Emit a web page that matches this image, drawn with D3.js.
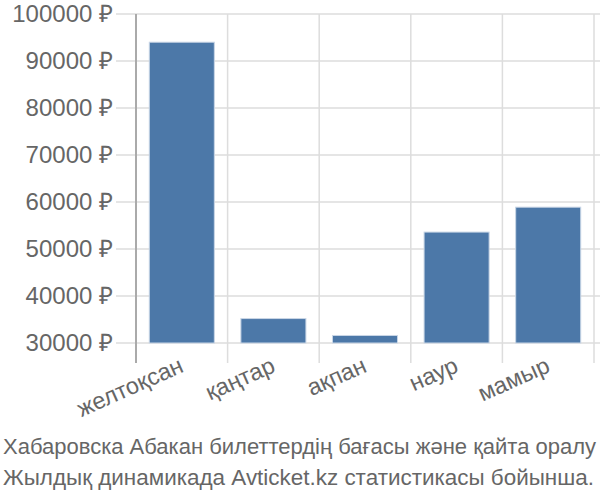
<!DOCTYPE html>
<html><head><meta charset="utf-8">
<script src="https://cdn.jsdelivr.net/npm/d3@7"></script>
<style>body{margin:0;background:#fff}svg{display:block}</style>
</head><body>
<svg id="c" width="600" height="500"></svg>
<script>
const categories = ["желтоқсан","қаңтар","ақпан","наур","мамыр"];
const values = [94000, 35200, 31600, 53600, 58900];
const yTicks = [30000,40000,50000,60000,70000,80000,90000,100000];
const titleLines = ["Хабаровска Абакан билеттердің бағасы және қайта оралу","Жылдық динамикада Avticket.kz статистикасы бойынша."];

(function(){
const svg = d3.select("#c");
const pl = 136, pr = 594, pt = 14, pb = 343;
const x = d3.scaleBand().domain(categories).range([pl, pr]).padding(0);
const y = d3.scaleLinear().domain([30000, 100000]).range([pb, pt]);
const font = "'Liberation Sans', Arial, sans-serif";

svg.append("g").selectAll("line").data(yTicks).join("line")
  .attr("x1", pl - 20).attr("x2", 600).attr("y1", d => y(d)).attr("y2", d => y(d))
  .attr("stroke", "#dddddd").attr("stroke-width", 1.5);
const bounds = categories.map(c => x(c)).concat([pr]);
svg.append("g").selectAll("line").data(bounds).join("line")
  .attr("x1", d => d).attr("x2", d => d).attr("y1", pt).attr("y2", pb + 20)
  .attr("stroke", (d,i) => i === 0 ? "#aaaaaa" : "#dddddd").attr("stroke-width", (d,i)=> i===0?2:1.5);

const bw = x.bandwidth();
svg.append("g").selectAll("rect").data(values).join("rect")
  .attr("x", (d,i) => x(categories[i]) + bw*0.145)
  .attr("width", bw*0.71)
  .attr("y", d => y(d))
  .attr("height", d => y(30000) - y(d))
  .attr("fill", "#4c78a8").attr("stroke", "#c9d6e6").attr("stroke-width", 1);

svg.append("g").selectAll("text").data(yTicks).join("text")
  .attr("x", 113).attr("y", d => y(d)).attr("dy", "0.35em")
  .attr("text-anchor", "end").attr("font-family", font).attr("font-size", 24)
  .attr("fill", "#666666").text(d => d + " ₽");

svg.append("g").selectAll("text").data(categories).join("text")
  .attr("transform", d => `translate(${x(d) + bw/2 - 4},${pb + 12}) rotate(-24)`)
  .attr("text-anchor", "end").attr("dy", "0.75em")
  .attr("font-family", font).attr("font-size", 23.5)
  .attr("fill", "#666666").text(d => d);

const titleWidths = [593, 591];
svg.append("g").selectAll("text").data(titleLines).join("text")
  .attr("x", 3).attr("y", (d,i) => 454 + i*31)
  .attr("textLength", (d,i) => titleWidths[i]).attr("lengthAdjust", "spacingAndGlyphs")
  .attr("font-family", font).attr("font-size", 22)
  .attr("fill", "#666666").text(d => d);
})();
</script>
</body></html>
